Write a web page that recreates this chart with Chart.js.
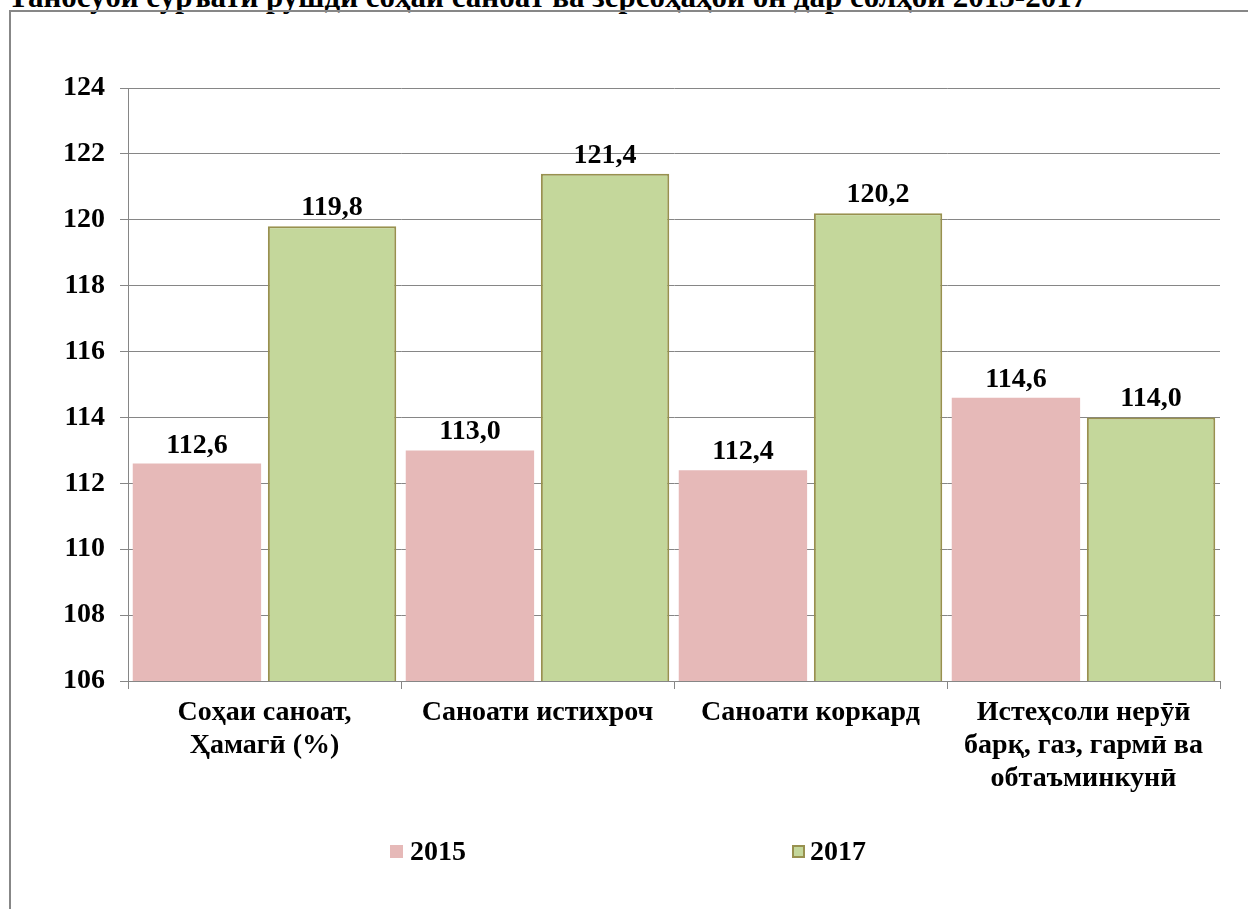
<!DOCTYPE html>
<html>
<head>
<meta charset="utf-8">
<script src="https://cdn.jsdelivr.net/npm/chart.js@4.4.0/dist/chart.umd.min.js"></script>
<style>
  html, body { margin: 0; padding: 0; background: #fff; overflow: hidden; width: 1248px; height: 909px; }
  #title { position: absolute; left: 8px; top: -19px; font: bold 31px "Liberation Serif", "Times New Roman", serif; line-height: 31px; white-space: nowrap; color: #000; }
  #frame { position: absolute; left: 9px; top: 10px; width: 1250px; height: 910px; border-left: 2px solid #878787; border-top: 2px solid #878787; }
  #wrap { position: absolute; left: 12px; top: 12px; width: 1236px; height: 897px; }
  .leg { position: absolute; font: bold 28px "Liberation Serif", "Times New Roman", serif; color: #000; line-height: 28px; }
  .sw { position: absolute; width: 13px; height: 13px; box-sizing: border-box; }
</style>
</head>
<body>
<div id="title">Таносуби суръати рушди соҳаи саноат ва зерсоҳаҳои он дар солҳои 2015-2017</div>
<div id="frame"></div>
<div id="wrap"><canvas id="c" width="1236" height="897"></canvas></div>
<div class="sw" style="left:390px; top:845px; background:#e6b9b8;"></div>
<div class="leg" id="l1" style="left:410px; top:837px;">2015</div>
<div class="sw" style="left:792px; top:845px; background:#c4d79b; border:2px solid #98914f;"></div>
<div class="leg" id="l2" style="left:810px; top:837px;">2017</div>
<script>
const categories = [
  ["Соҳаи саноат,", "Ҳамагӣ (%)"],
  ["Саноати истихроч"],
  ["Саноати коркард"],
  ["Истеҳсоли нерӯӣ", "барқ, газ, гармӣ ва", "обтаъминкунӣ"]
];
const seriesNames = ["2015", "2017"];
const values2015 = [112.6, 113.0, 112.4, 114.6];
const values2017 = [119.8, 121.4, 120.2, 114.0];
const yMin = 106, yMax = 124, yStep = 2;

const FONT = '"Liberation Serif", "Times New Roman", serif';

const valueLabels = {
  id: 'valueLabels',
  afterDatasetsDraw(chart) {
    const ctx = chart.ctx;
    ctx.save();
    ctx.font = 'bold 28px ' + FONT;
    ctx.fillStyle = '#000';
    ctx.textAlign = 'center';
    ctx.textBaseline = 'alphabetic';
    chart.data.datasets.forEach((ds, di) => {
      chart.getDatasetMeta(di).data.forEach((bar, i) => {
        const txt = ds.data[i].toFixed(1).replace('.', ',');
        ctx.fillText(txt, bar.x, bar.y - 11);
      });
    });
    ctx.restore();
  }
};

new Chart(document.getElementById('c'), {
  type: 'bar',
  data: {
    labels: categories,
    datasets: [
      { label: seriesNames[0], data: values2015, backgroundColor: '#e6b9b8', borderWidth: 0,
        barPercentage: 0.95, categoryPercentage: 0.99 },
      { label: seriesNames[1], data: values2017, backgroundColor: '#c4d79b', borderColor: '#98914f', borderWidth: 2,
        barPercentage: 0.95, categoryPercentage: 0.99 }
    ]
  },
  options: {
    responsive: false,
    animation: false,
    layout: { padding: { left: 0, top: 76, right: 28, bottom: 98 } },
    plugins: { legend: { display: false }, tooltip: { enabled: false }, title: { display: false } },
    scales: {
      y: {
        min: yMin, max: yMax,
        ticks: { stepSize: yStep, color: '#000', font: { family: FONT, size: 28, weight: 'bold' }, padding: 15 },
        grid: { color: '#868686', lineWidth: 1, tickLength: 8, drawTicks: true },
        border: { color: '#868686', width: 1 },
        afterFit(scale) { scale.width = 116; }
      },
      x: {
        ticks: { color: '#000', font: { family: FONT, size: 28, weight: 'bold', lineHeight: 1.18 }, padding: 7, maxRotation: 0, autoSkip: false },
        grid: { offset: true, drawOnChartArea: false, drawTicks: true, tickLength: 8, color: '#868686' },
        border: { color: '#868686', width: 1 },
        afterFit(scale) { scale.height = 130; }
      }
    }
  },
  plugins: [valueLabels]
});
</script>
</body>
</html>
